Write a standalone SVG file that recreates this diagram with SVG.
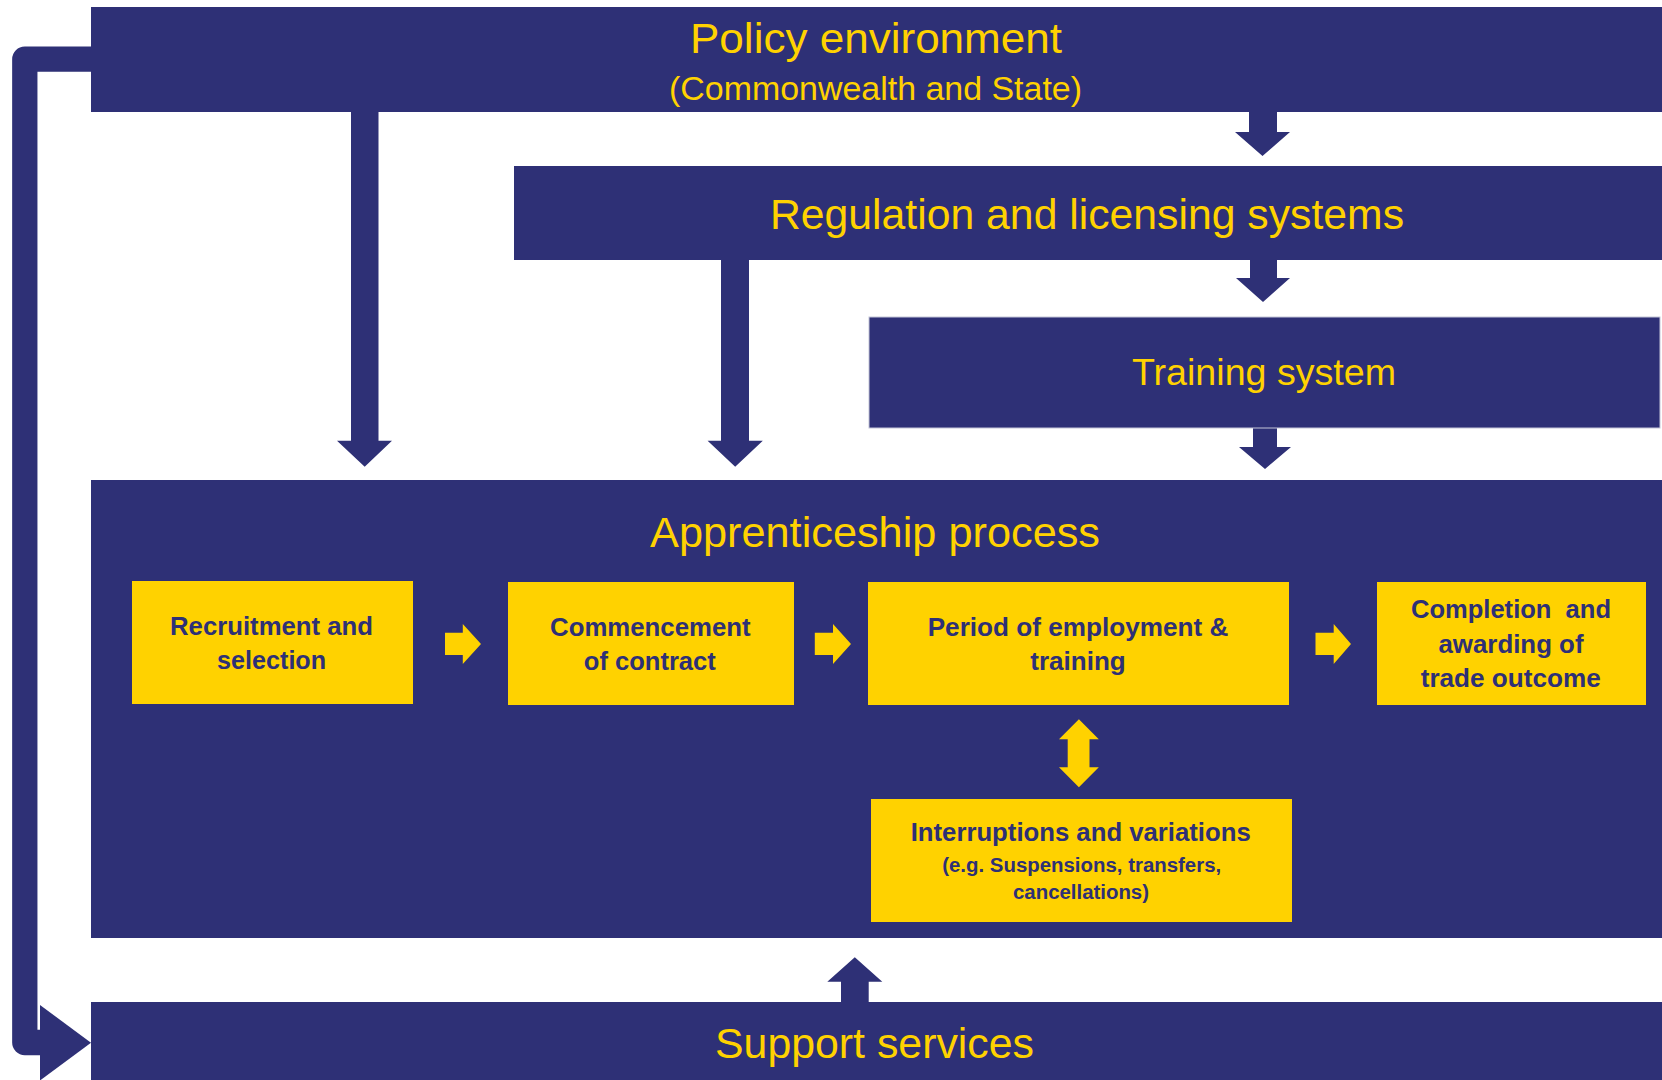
<svg xmlns="http://www.w3.org/2000/svg" width="1662" height="1080" viewBox="0 0 1662 1080">
<style>
.bar{fill:#2E3076}
.ybox{fill:#FFD200}
.head{font-family:"Liberation Sans",Arial,sans-serif;fill:#FFD200;text-anchor:middle;font-size:43px}
.btxt{font-family:"Liberation Sans",Arial,sans-serif;fill:#2E3076;text-anchor:middle;font-weight:bold;font-size:26px;white-space:pre}
.small{font-size:20px}
.navy{fill:#2E3076}
.yarr{fill:#FFD200}
</style>
<rect width="1662" height="1080" fill="#FFFFFF"/>
<g id="connectors">
  <path d="M 92 59.2 H 24.8 V 1042.5 H 42" fill="none" stroke="#2E3076" stroke-width="25.3" stroke-linejoin="round"/>
  <polygon class="navy" points="40,1005 91,1042.7 40,1080.5"/>
  <polygon class="navy" points="351,111 378.5,111 378.5,440.7 392,440.7 364.7,466.7 337,440.7 351,440.7"/>
  <polygon class="navy" points="721,259 749,259 749,440.7 762.8,440.7 735.2,466.7 707.6,440.7 721,440.7"/>
  <polygon class="navy" points="1249,111 1277,111 1277,132 1290,132 1262.5,156 1235,132 1249,132"/>
  <polygon class="navy" points="1250,259 1277,259 1277,278 1290,278 1263,302 1236,278 1250,278"/>
  <polygon class="navy" points="1253,427 1277,427 1277,447 1291,447 1265,469 1239,447 1253,447"/>
  <polygon class="navy" points="841,1003 868.7,1003 868.7,981.7 882.3,981.7 854.8,957.3 827.3,981.7 841,981.7"/>
</g>
<g id="policy">
  <rect class="bar" x="91" y="7" width="1571" height="105"/>
  <text class="head" x="876" y="53.3" textLength="372" lengthAdjust="spacingAndGlyphs">Policy environment</text>
  <text class="head" x="875.5" y="100" font-size="34" style="font-size:34px" textLength="413" lengthAdjust="spacingAndGlyphs">(Commonwealth and State)</text>
</g>
<g id="regulation">
  <rect class="bar" x="514" y="166" width="1148" height="94"/>
  <text class="head" x="1087" y="229.3" textLength="634" lengthAdjust="spacingAndGlyphs">Regulation and licensing systems</text>
</g>
<g id="training">
  <rect class="bar" x="869" y="317" width="791" height="111" stroke="#C4C5D8" stroke-width="1"/>
  <text class="head" x="1264" y="385" style="font-size:37px" textLength="264" lengthAdjust="spacingAndGlyphs">Training system</text>
</g>
<g id="apprenticeship">
  <rect class="bar" x="91" y="480" width="1571" height="458"/>
  <text class="head" x="875" y="546.7" textLength="450" lengthAdjust="spacingAndGlyphs">Apprenticeship process</text>
  <g id="inner-arrows">
    <polygon class="yarr" points="445,632.7 462.8,632.7 462.8,624 481,644 462.8,664 462.8,655 445,655"/>
    <polygon class="yarr" points="814.8,632.7 833,632.7 833,624 851,644 833,664 833,655 814.8,655"/>
    <polygon class="yarr" points="1315.5,632.7 1333.7,632.7 1333.7,624 1351,644 1333.7,664 1333.7,655 1315.5,655"/>
    <polygon class="yarr" points="1078.9,719.3 1098.8,739.3 1089.5,739.3 1089.5,767.3 1098.8,767.3 1078.9,787.3 1059,767.3 1067.7,767.3 1067.7,739.3 1059,739.3"/>
  </g>
  <g id="recruitment">
    <rect class="ybox" x="132" y="581" width="281" height="123"/>
    <text class="btxt" x="271.5" y="635" textLength="203" lengthAdjust="spacingAndGlyphs">Recruitment and</text>
    <text class="btxt" x="271.6" y="669.3" textLength="109" lengthAdjust="spacingAndGlyphs">selection</text>
  </g>
  <g id="commencement">
    <rect class="ybox" x="508" y="582" width="286" height="123"/>
    <text class="btxt" x="650.3" y="636" textLength="200.5" lengthAdjust="spacingAndGlyphs">Commencement</text>
    <text class="btxt" x="649.8" y="670" textLength="132" lengthAdjust="spacingAndGlyphs">of contract</text>
  </g>
  <g id="employment">
    <rect class="ybox" x="868" y="582" width="421" height="123"/>
    <text class="btxt" x="1078" y="636" textLength="300.6" lengthAdjust="spacingAndGlyphs">Period of employment &amp;</text>
    <text class="btxt" x="1078" y="670" textLength="95.4" lengthAdjust="spacingAndGlyphs">training</text>
  </g>
  <g id="completion">
    <rect class="ybox" x="1377" y="582" width="269" height="123"/>
    <text class="btxt" x="1511" y="617.7" textLength="200" lengthAdjust="spacingAndGlyphs">Completion  and</text>
    <text class="btxt" x="1511" y="652.7" textLength="145" lengthAdjust="spacingAndGlyphs">awarding of</text>
    <text class="btxt" x="1510.7" y="687.3" textLength="180" lengthAdjust="spacingAndGlyphs">trade outcome</text>
  </g>
  <g id="interruptions">
    <rect class="ybox" x="871" y="799" width="421" height="123"/>
    <text class="btxt" x="1080.7" y="840.7" textLength="340" lengthAdjust="spacingAndGlyphs">Interruptions and variations</text>
    <text class="btxt small" x="1081.7" y="871.7" textLength="279" lengthAdjust="spacingAndGlyphs">(e.g. Suspensions, transfers,</text>
    <text class="btxt small" x="1081" y="899.3" textLength="136" lengthAdjust="spacingAndGlyphs">cancellations)</text>
  </g>
</g>
<g id="support">
  <rect class="bar" x="91" y="1002" width="1571" height="78"/>
  <text class="head" x="874.5" y="1058.3" textLength="319" lengthAdjust="spacingAndGlyphs">Support services</text>
</g>
</svg>
